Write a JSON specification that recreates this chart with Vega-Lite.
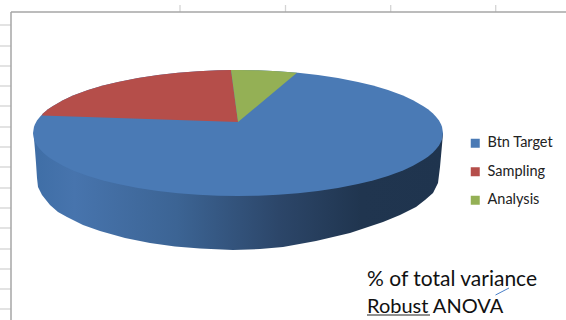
{
"$schema":"https://vega.github.io/schema/vega-lite/v6.json",
"width":566,"height":320,"padding":0,"autosize":{"type":"none"},
"background":"white",
"view":{"stroke":null},
"config":{"axis":{"domain":false,"ticks":false,"labels":false,"grid":false,"title":null}},
"datasets":{
"sheetLines":[
{"x":0,"x2":11,"y":25,"y2":25},{"x":0,"x2":11,"y":46,"y2":46},{"x":0,"x2":11,"y":66,"y2":66},{"x":0,"x2":11,"y":86,"y2":86},{"x":0,"x2":11,"y":106,"y2":106},{"x":0,"x2":11,"y":127,"y2":127},{"x":0,"x2":11,"y":147,"y2":147},{"x":0,"x2":11,"y":167,"y2":167},{"x":0,"x2":11,"y":188,"y2":188},{"x":0,"x2":11,"y":208,"y2":208},{"x":0,"x2":11,"y":228,"y2":228},{"x":0,"x2":11,"y":249,"y2":249},{"x":0,"x2":11,"y":269,"y2":269},{"x":0,"x2":11,"y":289,"y2":289},{"x":0,"x2":11,"y":309,"y2":309},
{"x":180,"x2":180,"y":5,"y2":12},{"x":285.5,"x2":285.5,"y":5,"y2":12},{"x":390.7,"x2":390.7,"y":5,"y2":12},{"x":495.7,"x2":495.7,"y":5,"y2":12}],
"chartFrame":[{"x":11,"x2":566,"y":12,"y2":12},{"x":11,"x2":11,"y":12,"y2":320}],
"wall":[
{"x":33.5,"top":133,"bottom":133},{"x":35,"top":133,"bottom":150},{"x":36,"top":133,"bottom":163},{"x":37,"top":133,"bottom":178},{"x":38,"top":133,"bottom":187},{"x":42,"top":133,"bottom":195},{"x":50,"top":133,"bottom":205},{"x":58,"top":133,"bottom":212},{"x":67,"top":133,"bottom":217},{"x":83,"top":133,"bottom":225},{"x":100,"top":133,"bottom":231},{"x":125,"top":133,"bottom":238},{"x":150,"top":133,"bottom":243},{"x":175,"top":133,"bottom":246.5},{"x":200,"top":133,"bottom":248.5},{"x":233,"top":133,"bottom":250},{"x":260,"top":133,"bottom":249},{"x":283,"top":133,"bottom":247},{"x":316,"top":133,"bottom":241},{"x":350,"top":133,"bottom":233},{"x":383,"top":133,"bottom":222},{"x":400,"top":133,"bottom":215},{"x":416,"top":133,"bottom":207},{"x":425,"top":133,"bottom":200},{"x":433,"top":133,"bottom":193},{"x":438,"top":133,"bottom":183},{"x":440,"top":133,"bottom":167},{"x":442,"top":133,"bottom":145},{"x":443,"top":133,"bottom":133}],
"slices":[
{"slice":"Btn Target","i":0,"x":33,"y":133},{"slice":"Btn Target","i":1,"x":34,"y":126.8},{"slice":"Btn Target","i":2,"x":35,"y":124.2},{"slice":"Btn Target","i":3,"x":37,"y":120.6},{"slice":"Btn Target","i":4,"x":40,"y":116.7},{"slice":"Btn Target","i":5,"x":43,"y":113.6},{"slice":"Btn Target","i":6,"x":48,"y":109.3},{"slice":"Btn Target","i":7,"x":53,"y":105.9},{"slice":"Btn Target","i":8,"x":63,"y":100.2},{"slice":"Btn Target","i":9,"x":73,"y":95.6},{"slice":"Btn Target","i":10,"x":88,"y":90.1},{"slice":"Btn Target","i":11,"x":103,"y":85.6},{"slice":"Btn Target","i":12,"x":118,"y":81.9},{"slice":"Btn Target","i":13,"x":138,"y":78},{"slice":"Btn Target","i":14,"x":158,"y":75},{"slice":"Btn Target","i":15,"x":178,"y":72.8},{"slice":"Btn Target","i":16,"x":198,"y":71.2},{"slice":"Btn Target","i":17,"x":218,"y":70.3},{"slice":"Btn Target","i":18,"x":238,"y":70},{"slice":"Btn Target","i":19,"x":258,"y":70.3},{"slice":"Btn Target","i":20,"x":278,"y":71.2},{"slice":"Btn Target","i":21,"x":298,"y":72.8},{"slice":"Btn Target","i":22,"x":318,"y":75},{"slice":"Btn Target","i":23,"x":338,"y":78},{"slice":"Btn Target","i":24,"x":358,"y":81.9},{"slice":"Btn Target","i":25,"x":373,"y":85.6},{"slice":"Btn Target","i":26,"x":388,"y":90.1},{"slice":"Btn Target","i":27,"x":403,"y":95.6},{"slice":"Btn Target","i":28,"x":413,"y":100.2},{"slice":"Btn Target","i":29,"x":423,"y":105.9},{"slice":"Btn Target","i":30,"x":428,"y":109.3},{"slice":"Btn Target","i":31,"x":433,"y":113.6},{"slice":"Btn Target","i":32,"x":436,"y":116.7},{"slice":"Btn Target","i":33,"x":439,"y":120.6},{"slice":"Btn Target","i":34,"x":441,"y":124.2},{"slice":"Btn Target","i":35,"x":442,"y":126.8},{"slice":"Btn Target","i":36,"x":443,"y":133},{"slice":"Btn Target","i":37,"x":442,"y":139.2},{"slice":"Btn Target","i":38,"x":441,"y":141.8},{"slice":"Btn Target","i":39,"x":439,"y":145.4},{"slice":"Btn Target","i":40,"x":436,"y":149.3},{"slice":"Btn Target","i":41,"x":433,"y":152.4},{"slice":"Btn Target","i":42,"x":428,"y":156.7},{"slice":"Btn Target","i":43,"x":423,"y":160.1},{"slice":"Btn Target","i":44,"x":413,"y":165.8},{"slice":"Btn Target","i":45,"x":403,"y":170.4},{"slice":"Btn Target","i":46,"x":388,"y":175.9},{"slice":"Btn Target","i":47,"x":373,"y":180.4},{"slice":"Btn Target","i":48,"x":358,"y":184.1},{"slice":"Btn Target","i":49,"x":338,"y":188},{"slice":"Btn Target","i":50,"x":318,"y":191},{"slice":"Btn Target","i":51,"x":298,"y":193.2},{"slice":"Btn Target","i":52,"x":278,"y":194.8},{"slice":"Btn Target","i":53,"x":258,"y":195.7},{"slice":"Btn Target","i":54,"x":238,"y":196},{"slice":"Btn Target","i":55,"x":218,"y":195.7},{"slice":"Btn Target","i":56,"x":198,"y":194.8},{"slice":"Btn Target","i":57,"x":178,"y":193.2},{"slice":"Btn Target","i":58,"x":158,"y":191},{"slice":"Btn Target","i":59,"x":138,"y":188},{"slice":"Btn Target","i":60,"x":118,"y":184.1},{"slice":"Btn Target","i":61,"x":103,"y":180.4},{"slice":"Btn Target","i":62,"x":88,"y":175.9},{"slice":"Btn Target","i":63,"x":73,"y":170.4},{"slice":"Btn Target","i":64,"x":63,"y":165.8},{"slice":"Btn Target","i":65,"x":53,"y":160.1},{"slice":"Btn Target","i":66,"x":48,"y":156.7},{"slice":"Btn Target","i":67,"x":43,"y":152.4},{"slice":"Btn Target","i":68,"x":40,"y":149.3},{"slice":"Btn Target","i":69,"x":37,"y":145.4},{"slice":"Btn Target","i":70,"x":35,"y":141.8},{"slice":"Btn Target","i":71,"x":34,"y":139.2},
{"slice":"Sampling","i":0,"x":238,"y":122},{"slice":"Sampling","i":1,"x":231,"y":70},{"slice":"Sampling","i":2,"x":218,"y":70.3},{"slice":"Sampling","i":3,"x":198,"y":71.2},{"slice":"Sampling","i":4,"x":178,"y":72.8},{"slice":"Sampling","i":5,"x":158,"y":75},{"slice":"Sampling","i":6,"x":138,"y":78},{"slice":"Sampling","i":7,"x":118,"y":81.9},{"slice":"Sampling","i":8,"x":103,"y":85.6},{"slice":"Sampling","i":9,"x":88,"y":90.1},{"slice":"Sampling","i":10,"x":73,"y":95.6},{"slice":"Sampling","i":11,"x":63,"y":100.2},{"slice":"Sampling","i":12,"x":53,"y":105.9},{"slice":"Sampling","i":13,"x":48,"y":109.3},{"slice":"Sampling","i":14,"x":43,"y":113.6},{"slice":"Sampling","i":15,"x":41.7,"y":115.5},
{"slice":"Analysis","i":0,"x":238,"y":122},{"slice":"Analysis","i":1,"x":231,"y":70},{"slice":"Analysis","i":2,"x":238,"y":70},{"slice":"Analysis","i":3,"x":258,"y":70.3},{"slice":"Analysis","i":4,"x":278,"y":71.2},{"slice":"Analysis","i":5,"x":297,"y":72.8}],
"noteTop":[{"x":367,"y":286,"text":"% of total variance"}],
"noteBottom":[{"x":367,"y":312.5,"text":"Robust ANOVA"}],
"underline":[{"x":367,"x2":430,"y":315,"y2":315}],
"pointer":[{"x":495.5,"x2":509,"y":295,"y2":288}]
},
"encoding":{
"x":{"type":"quantitative","scale":{"domain":[0,566],"nice":false,"zero":false},"axis":null},
"y":{"type":"quantitative","scale":{"domain":[0,320],"reverse":true,"nice":false,"zero":false},"axis":null}
},
"layer":[
{"data":{"name":"sheetLines"},"mark":{"type":"rule","color":"#d4d4d4","strokeWidth":1.3},
"encoding":{"x":{"field":"x","type":"quantitative"},"x2":{"field":"x2"},"y":{"field":"y","type":"quantitative"},"y2":{"field":"y2"}}},
{"data":{"name":"chartFrame"},"mark":{"type":"rule","color":"#a6a6a6","strokeWidth":1.5},
"encoding":{"x":{"field":"x","type":"quantitative"},"x2":{"field":"x2"},"y":{"field":"y","type":"quantitative"},"y2":{"field":"y2"}}},
{"data":{"name":"wall"},"mark":{"type":"area","interpolate":"linear","color":{"gradient":"linear","x1":0,"x2":1,"y1":0,"y2":0,"stops":[{"offset":0,"color":"#3f6ea6"},{"offset":0.1,"color":"#4774ad"},{"offset":0.35,"color":"#3c6494"},{"offset":0.6,"color":"#2c4669"},{"offset":0.8,"color":"#20354f"},{"offset":1,"color":"#1f344e"}]}},
"encoding":{"x":{"field":"x","type":"quantitative"},"y":{"field":"top","type":"quantitative"},"y2":{"field":"bottom"}}},
{"data":{"name":"slices"},"mark":{"type":"line","interpolate":"linear-closed","filled":true,"strokeWidth":0},
"encoding":{"x":{"field":"x","type":"quantitative"},"y":{"field":"y","type":"quantitative"},"order":{"field":"i","type":"quantitative"},
"fill":{"field":"slice","type":"nominal","sort":["Btn Target","Sampling","Analysis"],
"scale":{"domain":["Btn Target","Sampling","Analysis"],"range":["#4a7ab5","#b54e4a","#94b055"]},
"legend":{"title":null,"orient":"none","legendX":468,"legendY":136,"symbolType":"square","symbolSize":81,"symbolStrokeWidth":0,"rowPadding":13.5,"labelFont":"Lato","labelFontSize":14.5,"labelColor":"#222222","labelOffset":5,
"encode":{"symbols":{"update":{"fill":{"signal":"{'Btn Target':'#4f81bd','Sampling':'#c0504d','Analysis':'#9bbb59'}[datum.value]"},"opacity":{"value":1}}}}}}}},
{"data":{"name":"noteTop"},"mark":{"type":"text","align":"left","baseline":"alphabetic","font":"Lato","fontSize":21,"color":"#111111"},
"encoding":{"x":{"field":"x","type":"quantitative"},"y":{"field":"y","type":"quantitative"},"text":{"field":"text"}}},
{"data":{"name":"noteBottom"},"mark":{"type":"text","align":"left","baseline":"alphabetic","font":"Lato","fontSize":20,"color":"#111111"},
"encoding":{"x":{"field":"x","type":"quantitative"},"y":{"field":"y","type":"quantitative"},"text":{"field":"text"}}},
{"data":{"name":"underline"},"mark":{"type":"rule","color":"#222222","strokeWidth":1.2},
"encoding":{"x":{"field":"x","type":"quantitative"},"x2":{"field":"x2"},"y":{"field":"y","type":"quantitative"},"y2":{"field":"y2"}}},
{"data":{"name":"pointer"},"mark":{"type":"rule","color":"#4a7fc8","strokeWidth":1},
"encoding":{"x":{"field":"x","type":"quantitative"},"x2":{"field":"x2"},"y":{"field":"y","type":"quantitative"},"y2":{"field":"y2"}}}
]
}
